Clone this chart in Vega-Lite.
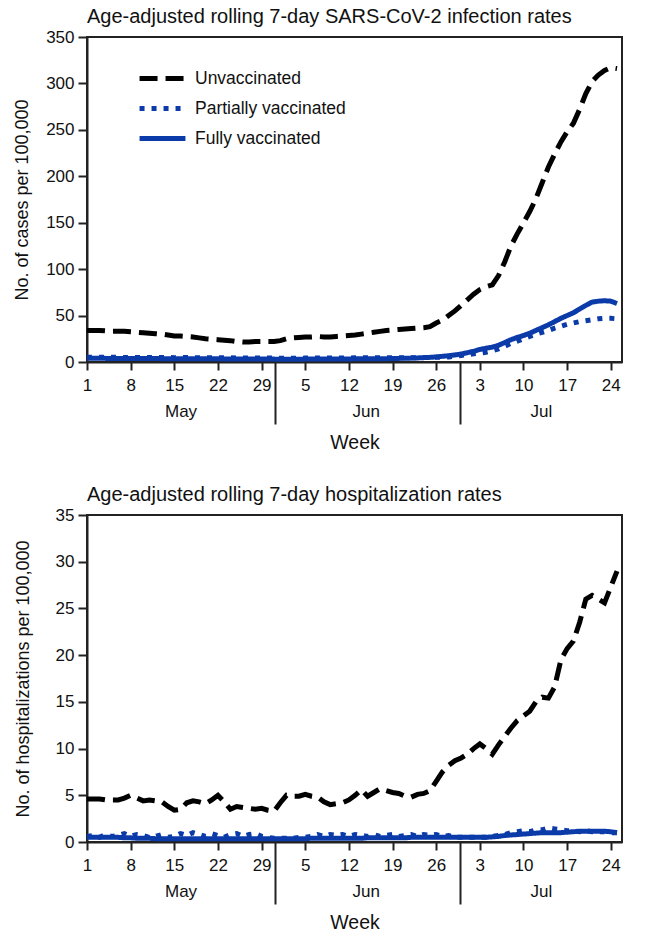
{
  "$schema": "https://vega.github.io/schema/vega-lite/v6.json",
  "padding": {"left": 12, "top": 6, "right": 5, "bottom": 5},
  "config": {
    "font": "Liberation Sans",
    "view": {"stroke": "#222222", "strokeWidth": 2},
    "axis": {"grid": false, "domainColor": "#222222", "domainWidth": 2, "tickColor": "#222222", "tickWidth": 2, "labelColor": "#111111", "titleColor": "#111111", "labelFontSize": 17, "titleFontSize": 18, "titleFontWeight": "normal", "labelFont": "Liberation Sans", "titleFont": "Liberation Sans"},
    "title": {"anchor": "start", "frame": "group", "fontSize": 20, "fontWeight": "normal", "color": "#111111", "offset": 1, "font": "Liberation Sans"},
    "concat": {"spacing": 31}
  },
  "datasets": {
    "inf": [
      {"d":0,"U":34,"P":5.0,"F":4.0},{"d":1,"U":34,"P":5.2,"F":4.0},{"d":2,"U":34,"P":5.0,"F":4.0},{"d":3,"U":33.5,"P":5.1,"F":3.9},{"d":4,"U":33,"P":5.0,"F":3.9},{"d":5,"U":33,"P":5.1,"F":3.9},{"d":6,"U":33,"P":4.9,"F":3.8},{"d":7,"U":32.5,"P":5.0,"F":3.8},{"d":8,"U":32,"P":4.9,"F":3.8},{"d":9,"U":31.5,"P":4.9,"F":3.7},
      {"d":10,"U":31,"P":4.8,"F":3.7},{"d":11,"U":30.5,"P":4.9,"F":3.7},{"d":12,"U":30,"P":4.8,"F":3.6},{"d":13,"U":29,"P":4.8,"F":3.6},{"d":14,"U":28,"P":4.7,"F":3.6},{"d":15,"U":28,"P":4.7,"F":3.5},{"d":16,"U":27.5,"P":4.8,"F":3.5},{"d":17,"U":27,"P":4.6,"F":3.5},{"d":18,"U":26,"P":4.7,"F":3.5},{"d":19,"U":25,"P":4.6,"F":3.4},
      {"d":20,"U":24.5,"P":4.6,"F":3.4},{"d":21,"U":24,"P":4.5,"F":3.4},{"d":22,"U":23.5,"P":4.5,"F":3.3},{"d":23,"U":23,"P":4.6,"F":3.3},{"d":24,"U":22,"P":4.4,"F":3.3},{"d":25,"U":21.5,"P":4.4,"F":3.2},{"d":26,"U":21.5,"P":4.4,"F":3.2},{"d":27,"U":22,"P":4.3,"F":3.2},{"d":28,"U":22,"P":4.3,"F":3.1},{"d":29,"U":22,"P":4.2,"F":3.1},
      {"d":30,"U":22,"P":4.2,"F":3.1},{"d":31,"U":23,"P":4.1,"F":3.0},{"d":32,"U":25,"P":4.1,"F":3.0},{"d":33,"U":26,"P":4.1,"F":3.0},{"d":34,"U":26.5,"P":4.1,"F":3.0},{"d":35,"U":27,"P":4.2,"F":3.1},{"d":36,"U":27,"P":4.2,"F":3.1},{"d":37,"U":27.5,"P":4.2,"F":3.1},{"d":38,"U":27,"P":4.3,"F":3.2},{"d":39,"U":27,"P":4.3,"F":3.2},
      {"d":40,"U":27.5,"P":4.3,"F":3.2},{"d":41,"U":28,"P":4.4,"F":3.3},{"d":42,"U":28.5,"P":4.4,"F":3.3},{"d":43,"U":29,"P":4.5,"F":3.4},{"d":44,"U":30,"P":4.5,"F":3.4},{"d":45,"U":31,"P":4.6,"F":3.5},{"d":46,"U":32,"P":4.6,"F":3.5},{"d":47,"U":33,"P":4.6,"F":3.6},{"d":48,"U":34,"P":4.6,"F":3.6},{"d":49,"U":34.5,"P":4.6,"F":3.7},
      {"d":50,"U":35,"P":4.6,"F":3.9},{"d":51,"U":35.5,"P":4.6,"F":4.0},{"d":52,"U":36,"P":4.6,"F":4.2},{"d":53,"U":36.5,"P":4.7,"F":4.4},{"d":54,"U":37,"P":4.8,"F":4.7},{"d":55,"U":38,"P":4.9,"F":5.0},{"d":56,"U":42,"P":5.0,"F":5.5},{"d":57,"U":45,"P":5.0,"F":6.1},{"d":58,"U":50,"P":5.5,"F":6.8},{"d":59,"U":55,"P":6.2,"F":7.6},
      {"d":60,"U":61,"P":7.0,"F":8.6},{"d":61,"U":67,"P":8.0,"F":10.0},{"d":62,"U":73,"P":8.8,"F":11.5},{"d":63,"U":78,"P":9.5,"F":13.5},{"d":64,"U":81,"P":10.5,"F":14.8},{"d":65,"U":83,"P":12.0,"F":16.0},{"d":66,"U":93,"P":14.0,"F":18.0},{"d":67,"U":108,"P":17.0,"F":21.0},{"d":68,"U":125,"P":20.0,"F":24.0},{"d":69,"U":138,"P":22.5,"F":26.5},
      {"d":70,"U":150,"P":25.0,"F":28.5},{"d":71,"U":162,"P":27.5,"F":31.0},{"d":72,"U":176,"P":30.0,"F":34.0},{"d":73,"U":193,"P":32.0,"F":37.0},{"d":74,"U":210,"P":34.0,"F":40.0},{"d":75,"U":224,"P":36.5,"F":43.5},{"d":76,"U":237,"P":38.5,"F":47.0},{"d":77,"U":248,"P":40.5,"F":50.0},{"d":78,"U":257,"P":42.0,"F":53.0},{"d":79,"U":272,"P":43.5,"F":57.0},
      {"d":80,"U":289,"P":44.5,"F":61.0},{"d":81,"U":302,"P":45.5,"F":64.5},{"d":82,"U":309,"P":46.5,"F":65.5},{"d":83,"U":314,"P":47.0,"F":66.0},{"d":84,"U":317,"P":47.0,"F":65.5},{"d":85,"U":316,"P":46.5,"F":63.0}
    ],
    "hosp": [
      {"d":0,"U":4.6,"P":0.6,"F":0.5},{"d":1,"U":4.6,"P":0.7,"F":0.5},{"d":2,"U":4.6,"P":0.5,"F":0.5},{"d":3,"U":4.5,"P":0.8,"F":0.5},{"d":4,"U":4.5,"P":0.6,"F":0.5},{"d":5,"U":4.5,"P":0.7,"F":0.5},{"d":6,"U":4.7,"P":0.9,"F":0.45},{"d":7,"U":5.0,"P":0.6,"F":0.45},{"d":8,"U":4.7,"P":0.8,"F":0.4},{"d":9,"U":4.4,"P":0.7,"F":0.4},
      {"d":10,"U":4.5,"P":0.5,"F":0.4},{"d":11,"U":4.4,"P":0.6,"F":0.35},{"d":12,"U":4.3,"P":0.8,"F":0.35},{"d":13,"U":3.8,"P":0.5,"F":0.35},{"d":14,"U":3.4,"P":0.6,"F":0.35},{"d":15,"U":3.5,"P":0.9,"F":0.35},{"d":16,"U":4.2,"P":0.7,"F":0.35},{"d":17,"U":4.4,"P":1.0,"F":0.35},{"d":18,"U":4.3,"P":0.8,"F":0.35},{"d":19,"U":4.1,"P":0.6,"F":0.35},
      {"d":20,"U":4.5,"P":0.9,"F":0.35},{"d":21,"U":5.0,"P":0.7,"F":0.35},{"d":22,"U":4.3,"P":0.5,"F":0.35},{"d":23,"U":3.5,"P":0.8,"F":0.35},{"d":24,"U":3.8,"P":0.9,"F":0.35},{"d":25,"U":3.7,"P":0.6,"F":0.35},{"d":26,"U":3.6,"P":0.8,"F":0.35},{"d":27,"U":3.5,"P":0.9,"F":0.35},{"d":28,"U":3.6,"P":0.6,"F":0.35},{"d":29,"U":3.4,"P":0.5,"F":0.35},
      {"d":30,"U":3.3,"P":0.4,"F":0.35},{"d":31,"U":4.2,"P":0.4,"F":0.35},{"d":32,"U":5.0,"P":0.4,"F":0.35},{"d":33,"U":4.9,"P":0.4,"F":0.35},{"d":34,"U":4.9,"P":0.5,"F":0.35},{"d":35,"U":5.1,"P":0.5,"F":0.35},{"d":36,"U":4.9,"P":0.6,"F":0.4},{"d":37,"U":4.8,"P":0.8,"F":0.4},{"d":38,"U":4.3,"P":0.6,"F":0.4},{"d":39,"U":4.0,"P":0.8,"F":0.4},
      {"d":40,"U":4.1,"P":0.7,"F":0.4},{"d":41,"U":4.2,"P":0.8,"F":0.4},{"d":42,"U":4.5,"P":0.6,"F":0.4},{"d":43,"U":5.0,"P":0.8,"F":0.4},{"d":44,"U":5.6,"P":0.7,"F":0.4},{"d":45,"U":4.9,"P":0.6,"F":0.45},{"d":46,"U":5.3,"P":0.8,"F":0.45},{"d":47,"U":5.7,"P":0.6,"F":0.45},{"d":48,"U":5.5,"P":0.7,"F":0.45},{"d":49,"U":5.3,"P":0.8,"F":0.45},
      {"d":50,"U":5.2,"P":0.6,"F":0.45},{"d":51,"U":4.9,"P":0.7,"F":0.45},{"d":52,"U":4.8,"P":0.8,"F":0.5},{"d":53,"U":5.1,"P":0.6,"F":0.5},{"d":54,"U":5.2,"P":0.8,"F":0.5},{"d":55,"U":5.5,"P":0.7,"F":0.5},{"d":56,"U":6.5,"P":0.8,"F":0.5},{"d":57,"U":7.5,"P":0.6,"F":0.5},{"d":58,"U":8.2,"P":0.7,"F":0.5},{"d":59,"U":8.7,"P":0.5,"F":0.5},
      {"d":60,"U":9.0,"P":0.5,"F":0.5},{"d":61,"U":9.4,"P":0.5,"F":0.5},{"d":62,"U":10.0,"P":0.5,"F":0.5},{"d":63,"U":10.5,"P":0.5,"F":0.5},{"d":64,"U":10.0,"P":0.5,"F":0.5},{"d":65,"U":9.4,"P":0.6,"F":0.55},{"d":66,"U":10.4,"P":0.7,"F":0.6},{"d":67,"U":11.3,"P":0.8,"F":0.7},{"d":68,"U":12.2,"P":1.0,"F":0.75},{"d":69,"U":13.0,"P":1.1,"F":0.8},
      {"d":70,"U":13.5,"P":1.2,"F":0.85},{"d":71,"U":14.0,"P":1.1,"F":0.9},{"d":72,"U":15.0,"P":1.3,"F":0.95},{"d":73,"U":15.5,"P":1.3,"F":1.0},{"d":74,"U":15.4,"P":1.5,"F":1.0},{"d":75,"U":16.6,"P":1.4,"F":1.0},{"d":76,"U":19.5,"P":1.3,"F":1.0},{"d":77,"U":20.7,"P":1.2,"F":1.05},{"d":78,"U":21.5,"P":1.2,"F":1.1},{"d":79,"U":23.5,"P":1.1,"F":1.15},
      {"d":80,"U":26.0,"P":1.2,"F":1.15},{"d":81,"U":26.4,"P":1.1,"F":1.15},{"d":82,"U":26.0,"P":1.1,"F":1.15},{"d":83,"U":25.6,"P":1.1,"F":1.15},{"d":84,"U":27.3,"P":1.0,"F":1.1},{"d":85,"U":29.0,"P":1.0,"F":1.0}
    ],
    "seps": [{"d":30.1,"v":0},{"d":59.8,"v":0}],
    "months": [{"d":15,"m":"May","v":0},{"d":44.7,"m":"Jun","v":0},{"d":72.8,"m":"Jul","v":0}]
  },
  "vconcat": [
    {
      "title": {"text": "Age-adjusted rolling 7-day SARS-CoV-2 infection rates"},
      "width": 535,
      "height": 325,
      "layer": [
        {
          "data": {"name": "inf"},
          "transform": [{"fold": ["U", "P", "F"], "as": ["s", "v"]}],
          "mark": {"type": "line", "strokeWidth": 5, "strokeCap": "butt"},
          "encoding": {
            "x": {"field": "d", "type": "quantitative", "scale": {"domain": [0, 85.8], "nice": false, "zero": false},
                  "axis": {"orient": "bottom", "values": [0,7,14,21,28,35,42,49,56,63,70,77,84], "labelExpr": "['1','8','15','22','29','5','12','19','26','3','10','17','24'][round(datum.value/7)]", "tickSize": 8, "labelPadding": 7, "title": null, "labelFlush": false, "labelOverlap": false}},
            "y": {"field": "v", "type": "quantitative", "scale": {"domain": [0, 350], "nice": false},
                  "axis": {"values": [0,50,100,150,200,250,300,350], "title": "No. of cases per 100,000", "tickSize": 9, "labelPadding": 4, "titlePadding": 14}},
            "color": {"field": "s", "type": "nominal", "scale": {"domain": ["U","P","F"], "range": ["#000000", "#0b3ba8", "#0b3ba8"]},
                      "legend": {"title": null, "orient": "none", "legendX": 56, "legendY": 22, "symbolType": "M-1.35,0H1.35", "symbolSize": 1156, "symbolStrokeWidth": 5, "labelFontSize": 17.5, "labelOffset": 13, "rowPadding": 0, "labelColor": "#111111", "labelExpr": "datum.label == 'U' ? 'Unvaccinated' : datum.label == 'P' ? 'Partially vaccinated' : 'Fully vaccinated'"}},
            "strokeDash": {"field": "s", "type": "nominal", "scale": {"domain": ["U","P","F"], "range": [[18, 8], [5, 7], [1, 0]]},
                      "legend": {"title": null, "orient": "none", "legendX": 56, "legendY": 22, "symbolType": "M-1.35,0H1.35", "symbolSize": 1156, "symbolStrokeWidth": 5, "labelFontSize": 17.5, "labelOffset": 13, "rowPadding": 0, "labelColor": "#111111", "labelExpr": "datum.label == 'U' ? 'Unvaccinated' : datum.label == 'P' ? 'Partially vaccinated' : 'Fully vaccinated'"}}
          }
        },
        {
          "data": {"name": "seps"},
          "mark": {"type": "point", "opacity": 0},
          "encoding": {
            "x": {"field": "d", "type": "quantitative",
                  "axis": {"orient": "bottom", "values": [30.1, 59.8], "tickSize": 62, "labels": false, "domain": false, "title": null}},
            "y": {"field": "v", "type": "quantitative"}
          }
        },
        {
          "data": {"name": "months"},
          "mark": {"type": "point", "opacity": 0},
          "encoding": {
            "x": {"field": "d", "type": "quantitative",
                  "axis": {"orient": "bottom", "values": [15, 44.7, 72.8], "labelExpr": "datum.value < 30 ? 'May' : datum.value < 60 ? 'Jun' : 'Jul'", "ticks": false, "tickSize": 0, "domain": false, "labelPadding": 41, "labelFontSize": 17, "labelFlush": false, "title": "Week", "titleFontSize": 19.5, "titlePadding": 14}},
            "y": {"field": "v", "type": "quantitative"}
          }
        }
      ],
      "resolve": {"axis": {"x": "independent"}}
    },
    {
      "title": {"text": "Age-adjusted rolling 7-day hospitalization rates"},
      "width": 535,
      "height": 327,
      "layer": [
        {
          "data": {"name": "hosp"},
          "transform": [{"fold": ["U", "P", "F"], "as": ["s", "v"]}],
          "mark": {"type": "line", "strokeWidth": 5, "strokeCap": "butt"},
          "encoding": {
            "x": {"field": "d", "type": "quantitative", "scale": {"domain": [0, 85.8], "nice": false, "zero": false},
                  "axis": {"orient": "bottom", "values": [0,7,14,21,28,35,42,49,56,63,70,77,84], "labelExpr": "['1','8','15','22','29','5','12','19','26','3','10','17','24'][round(datum.value/7)]", "tickSize": 8, "labelPadding": 7, "title": null, "labelFlush": false, "labelOverlap": false}},
            "y": {"field": "v", "type": "quantitative", "scale": {"domain": [0, 35], "nice": false},
                  "axis": {"values": [0,5,10,15,20,25,30,35], "title": "No. of hospitalizations per 100,000", "tickSize": 9, "labelPadding": 4, "titlePadding": 23}},
            "color": {"field": "s", "type": "nominal", "scale": {"domain": ["U","P","F"], "range": ["#000000", "#0b3ba8", "#0b3ba8"]},
                      "legend": {"title": null, "orient": "none", "legendX": 56, "legendY": 22, "symbolType": "M-1.35,0H1.35", "symbolSize": 1156, "symbolStrokeWidth": 5, "labelFontSize": 17.5, "labelOffset": 13, "rowPadding": 0, "labelColor": "#111111", "labelExpr": "datum.label == 'U' ? 'Unvaccinated' : datum.label == 'P' ? 'Partially vaccinated' : 'Fully vaccinated'"}},
            "strokeDash": {"field": "s", "type": "nominal", "scale": {"domain": ["U","P","F"], "range": [[18, 8], [5, 7], [1, 0]]},
                      "legend": {"title": null, "orient": "none", "legendX": 56, "legendY": 22, "symbolType": "M-1.35,0H1.35", "symbolSize": 1156, "symbolStrokeWidth": 5, "labelFontSize": 17.5, "labelOffset": 13, "rowPadding": 0, "labelColor": "#111111", "labelExpr": "datum.label == 'U' ? 'Unvaccinated' : datum.label == 'P' ? 'Partially vaccinated' : 'Fully vaccinated'"}}
          }
        },
        {
          "data": {"name": "seps"},
          "mark": {"type": "point", "opacity": 0},
          "encoding": {
            "x": {"field": "d", "type": "quantitative",
                  "axis": {"orient": "bottom", "values": [30.1, 59.8], "tickSize": 62, "labels": false, "domain": false, "title": null}},
            "y": {"field": "v", "type": "quantitative"}
          }
        },
        {
          "data": {"name": "months"},
          "mark": {"type": "point", "opacity": 0},
          "encoding": {
            "x": {"field": "d", "type": "quantitative",
                  "axis": {"orient": "bottom", "values": [15, 44.7, 72.8], "labelExpr": "datum.value < 30 ? 'May' : datum.value < 60 ? 'Jun' : 'Jul'", "ticks": false, "tickSize": 0, "domain": false, "labelPadding": 41, "labelFontSize": 17, "labelFlush": false, "title": "Week", "titleFontSize": 19.5, "titlePadding": 14}},
            "y": {"field": "v", "type": "quantitative"}
          }
        }
      ],
      "resolve": {"axis": {"x": "independent"}}
    }
  ]
}
